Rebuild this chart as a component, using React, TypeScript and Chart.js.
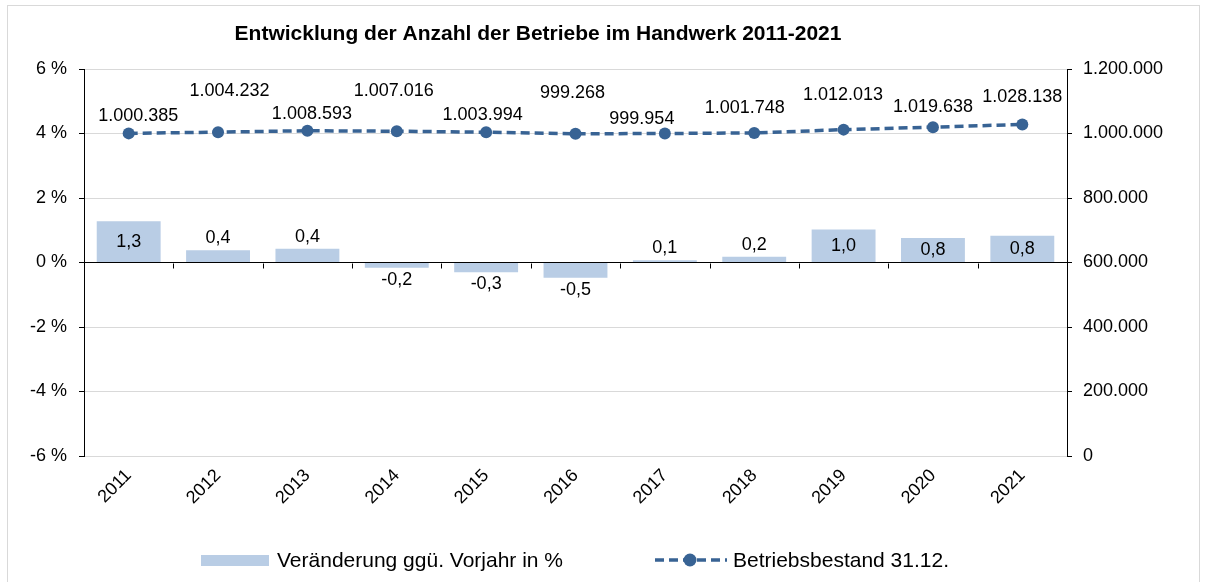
import React, { useEffect, useRef } from "react";
import { Chart, registerables } from "chart.js";

Chart.register(...registerables);

const chartTitle = "Entwicklung der Anzahl der Betriebe im Handwerk 2011-2021";
const categories = ["2011", "2012", "2013", "2014", "2015", "2016", "2017", "2018", "2019", "2020", "2021"];
const barSeriesName = "Veränderung ggü. Vorjahr in %";
const lineSeriesName = "Betriebsbestand 31.12.";
const changePct = [1.28, 0.38, 0.43, -0.16, -0.3, -0.47, 0.07, 0.18, 1.02, 0.76, 0.83];
const betriebe = [1000385, 1004232, 1008593, 1007016, 1003994, 999268, 999954, 1001748, 1012013, 1019638, 1028138];
const leftMin = -6;
const leftMax = 6;
const leftStep = 2;
const rightMin = 0;
const rightMax = 1200000;
const rightStep = 200000;

// style: manual placement of each line label relative to its point (px)
const lineLabelLift = [17, 41, 17, 40, 17, 41, 14, 25, 35, 20, 27];
const lineLabelShift = [9.5, 11.5, 4.5, -3, -3.5, -3, -23, -9.5, -0.5, 0, 0];

const FONT = "'Liberation Sans', Arial, sans-serif";
const BAR_COLOR = "#B9CDE5";
const LINE_COLOR = "#386394";
const GRID_COLOR = "#D9D9D9";

const fmtThousands = (v: number) => String(Math.round(v)).replace(/\B(?=(\d{3})+(?!\d))/g, ".");
const fmtPct = (v: number) => v.toFixed(1).replace(".", ",");

const drawPlugin = {
  id: "customDraw",
  beforeDraw(chart: any) {
    const { ctx, width, height } = chart;
    ctx.save();
    ctx.fillStyle = "#ffffff";
    ctx.fillRect(0, 0, width, height);
    ctx.strokeStyle = GRID_COLOR;
    ctx.lineWidth = 1;
    ctx.strokeRect(7.5, 5.5, 1192, height + 20);
    ctx.restore();
  },
  afterDatasetsDraw(chart: any) {
    const { ctx } = chart;
    const x = chart.scales.x;
    const y = chart.scales.y;
    const y0 = Math.round(y.getPixelForValue(0)) + 0.5;
    ctx.save();
    // category tick marks on the zero line
    ctx.strokeStyle = "#000";
    ctx.lineWidth = 1;
    ctx.beginPath();
    for (let i = 1; i < categories.length; i++) {
      const bx = Math.round((x.getPixelForValue(i - 1) + x.getPixelForValue(i)) / 2) + 0.5;
      ctx.moveTo(bx, y0);
      ctx.lineTo(bx, y0 + 5);
    }
    ctx.stroke();

    ctx.fillStyle = "#000";
    ctx.font = `18px ${FONT}`;
    ctx.textAlign = "center";
    ctx.textBaseline = "middle";
    // bar labels
    const barMeta = chart.getDatasetMeta(0);
    barMeta.data.forEach((el: any, i: number) => {
      const v = changePct[i];
      const top = Math.min(el.y, el.base);
      const bottom = Math.max(el.y, el.base);
      const h = bottom - top;
      let cy: number;
      if (h > 20) cy = (top + bottom) / 2;
      else if (v >= 0) cy = top - 12;
      else cy = bottom + 12;
      ctx.fillText(fmtPct(v), el.x, cy);
    });
    // line labels
    const lineMeta = chart.getDatasetMeta(1);
    lineMeta.data.forEach((el: any, i: number) => {
      ctx.fillText(fmtThousands(betriebe[i]), el.x + lineLabelShift[i], el.y - lineLabelLift[i]);
    });
    ctx.restore();
  },
  afterDraw(chart: any) {
    const { ctx } = chart;
    ctx.save();
    // title
    ctx.fillStyle = "#000";
    ctx.font = `bold 21px ${FONT}`;
    ctx.textAlign = "center";
    ctx.textBaseline = "alphabetic";
    ctx.fillText(chartTitle, 538, 40);

    // legend
    const ly = 560;
    ctx.fillStyle = BAR_COLOR;
    ctx.fillRect(201, 555, 68, 11);
    ctx.fillStyle = "#000";
    ctx.font = `21px ${FONT}`;
    ctx.textAlign = "left";
    ctx.textBaseline = "middle";
    ctx.fillText(barSeriesName, 277, ly + 1);

    ctx.strokeStyle = LINE_COLOR;
    ctx.lineWidth = 3.5;
    ctx.setLineDash([9, 5]);
    ctx.beginPath();
    ctx.moveTo(655, ly);
    ctx.lineTo(727, ly);
    ctx.stroke();
    ctx.setLineDash([]);
    ctx.fillStyle = LINE_COLOR;
    ctx.beginPath();
    ctx.arc(690, ly, 6.5, 0, Math.PI * 2);
    ctx.fill();
    ctx.fillStyle = "#000";
    ctx.fillText(lineSeriesName, 733, ly + 1);
    ctx.restore();
  },
};

export default function App() {
  const canvasRef = useRef<HTMLCanvasElement | null>(null);

  useEffect(() => {
    const canvas = canvasRef.current;
    if (!canvas) return;
    Chart.defaults.font.family = FONT;
    Chart.defaults.color = "#000";
    const chart = new Chart(canvas, {
      type: "bar",
      data: {
        labels: categories,
        datasets: [
          {
            type: "bar",
            label: barSeriesName,
            data: changePct,
            backgroundColor: BAR_COLOR,
            borderWidth: 0,
            categoryPercentage: 1,
            barPercentage: 0.715,
            yAxisID: "y",
            order: 2,
          } as any,
          {
            type: "line",
            label: lineSeriesName,
            data: betriebe,
            borderColor: LINE_COLOR,
            backgroundColor: LINE_COLOR,
            borderWidth: 3.5,
            borderDash: [9, 5],
            pointRadius: 6,
            pointBackgroundColor: LINE_COLOR,
            pointBorderWidth: 0,
            tension: 0,
            fill: false,
            yAxisID: "y1",
            order: 1,
          } as any,
        ],
      },
      options: {
        responsive: false,
        animation: false,
        devicePixelRatio: 1,
        layout: { padding: { top: 69, left: 0, right: 0, bottom: 0 } },
        plugins: {
          legend: { display: false },
          title: { display: false },
          tooltip: { enabled: false },
        },
        scales: {
          x: {
            grid: { display: false, drawTicks: false },
            border: { display: false },
            ticks: {
              font: { size: 18, family: FONT },
              color: "#000",
              minRotation: 45,
              maxRotation: 45,
              padding: 9,
            },
            afterFit(scale: any) {
              scale.height = 126;
            },
          },
          y: {
            position: "left",
            min: leftMin,
            max: leftMax,
            ticks: {
              stepSize: leftStep,
              font: { size: 18, family: FONT },
              color: "#000",
              padding: 12,
              callback: (v: any) => `${v} %`,
            },
            grid: {
              color: (c: any) => (c.tick && c.tick.value === 0 ? "#000" : GRID_COLOR),
              tickColor: "#000",
              tickLength: 5,
              lineWidth: 1,
            },
            border: { display: true, color: "#000", width: 1 },
            afterFit(scale: any) {
              scale.width = 84;
            },
          },
          y1: {
            position: "right",
            min: rightMin,
            max: rightMax,
            ticks: {
              stepSize: rightStep,
              font: { size: 18, family: FONT },
              color: "#000",
              padding: 11,
              callback: (v: any) => fmtThousands(Number(v)),
            },
            grid: {
              drawOnChartArea: false,
              tickColor: "#000",
              tickLength: 5,
            },
            border: { display: true, color: "#000", width: 1 },
            afterFit(scale: any) {
              scale.width = 139;
            },
          },
        },
      } as any,
      plugins: [drawPlugin],
    });
    return () => chart.destroy();
  }, []);

  return (
    <div style={{ position: "absolute", left: 0, top: 0, width: 1206, height: 582, background: "#fff" }}>
      <canvas ref={canvasRef} width={1206} height={582} style={{ width: 1206, height: 582, display: "block" }} />
    </div>
  );
}
